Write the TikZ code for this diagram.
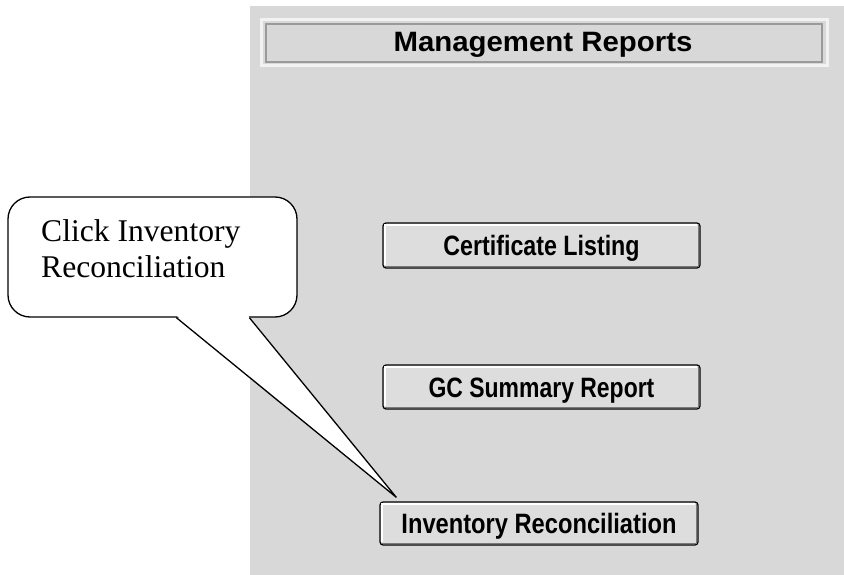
\documentclass[tikz,border=0pt]{standalone}
\usepackage{fontspec}
\usepackage{graphicx}
\setmainfont{Liberation Serif}
\newfontfamily\uifont{Liberation Sans}
\usetikzlibrary{calc}
\definecolor{panelgray}{HTML}{D8D8D8}
\definecolor{btnfill}{HTML}{DDDDDD}
\definecolor{titlelight}{HTML}{F2F2F2}
\definecolor{titledark}{HTML}{9A9A9A}
\definecolor{btnshadow}{HTML}{7A7A7A}
\newcommand{\btnbevel}[1]{%
  \draw[white, line width=1.5pt] ($(#1.south west)+(2.5,-4)$) -- ($(#1.north west)+(2.5,2.5)$) -- ($(#1.north east)+(-4,2.5)$);
  \draw[btnshadow, line width=1.8pt] ($(#1.south west)+(3,-2.2)$) -- ($(#1.south east)+(-2.2,-2.2)$) -- ($(#1.north east)+(-2.2,3)$);
}
\begin{document}
\begin{tikzpicture}[x=1pt,y=-1pt,
  btn/.style={draw=black, line width=1.2pt, fill=btnfill, rounded corners=3pt,
    minimum width=317pt, minimum height=45pt, inner sep=0pt,
    text height=20pt, text depth=0pt,
    font=\uifont\bfseries\fontsize{28}{30}\selectfont},
  calloutbox/.style={draw=black, line width=1.3pt, fill=white, rounded corners=22pt,
    minimum width=289pt, minimum height=120pt, inner sep=0pt},
  callouttext/.style={anchor=base west, inner sep=0pt,
    font=\fontsize{31.6}{37.7}\selectfont},
  tail/.style={draw=black, line width=1.3pt, line join=miter}
]
\useasboundingbox (0,0) rectangle (844,575);
\fill[white] (0,0) rectangle (844,575);
\fill[panelgray] (250,6) rectangle (844,575);

% title bar
\draw[titlelight, line width=2.6pt] (261.5,19.5) rectangle (827.5,65.5);
\draw[titledark, line width=1.8pt] (266,24) rectangle (822,62);
\node[inner sep=0pt, text height=20pt, text depth=0pt,
  font=\uifont\bfseries\fontsize{28}{30}\selectfont] (title) at (543,42)
  {\scalebox{1.05}[1]{Management Reports}};

% buttons
\node[btn] (btn1) at (541.5,245.5) {\scalebox{0.83}[1]{Certificate Listing}};
\btnbevel{btn1}
\node[btn, minimum height=44pt] (btn2) at (541.5,387) {\scalebox{0.82}[1]{GC Summary Report}};
\btnbevel{btn2}
\node[btn, minimum width=318pt, minimum height=43pt] (btn3) at (539,523.5) {\scalebox{0.846}[1]{Inventory Reconciliation}};
\btnbevel{btn3}

% callout
\node[calloutbox] (callout) at (152.5,257) {};
\coordinate (tl) at ($(callout.south west)+(169,0)$);
\coordinate (tr) at ($(callout.south west)+(242,0)$);
\coordinate (tip) at ($(btn3.north west)+(17,-4)$);
\fill[white] ($(tl)+(0.8,-1.5)$) -- (tip) -- ($(tr)+(-0.8,-1.5)$) -- cycle;
\draw[tail] (tl) -- (tip) -- (tr);
\node[callouttext] (c1) at (41,241) {Click Inventory};
\node[callouttext] (c2) at (41,277) {Reconciliation};
\end{tikzpicture}
\end{document}
